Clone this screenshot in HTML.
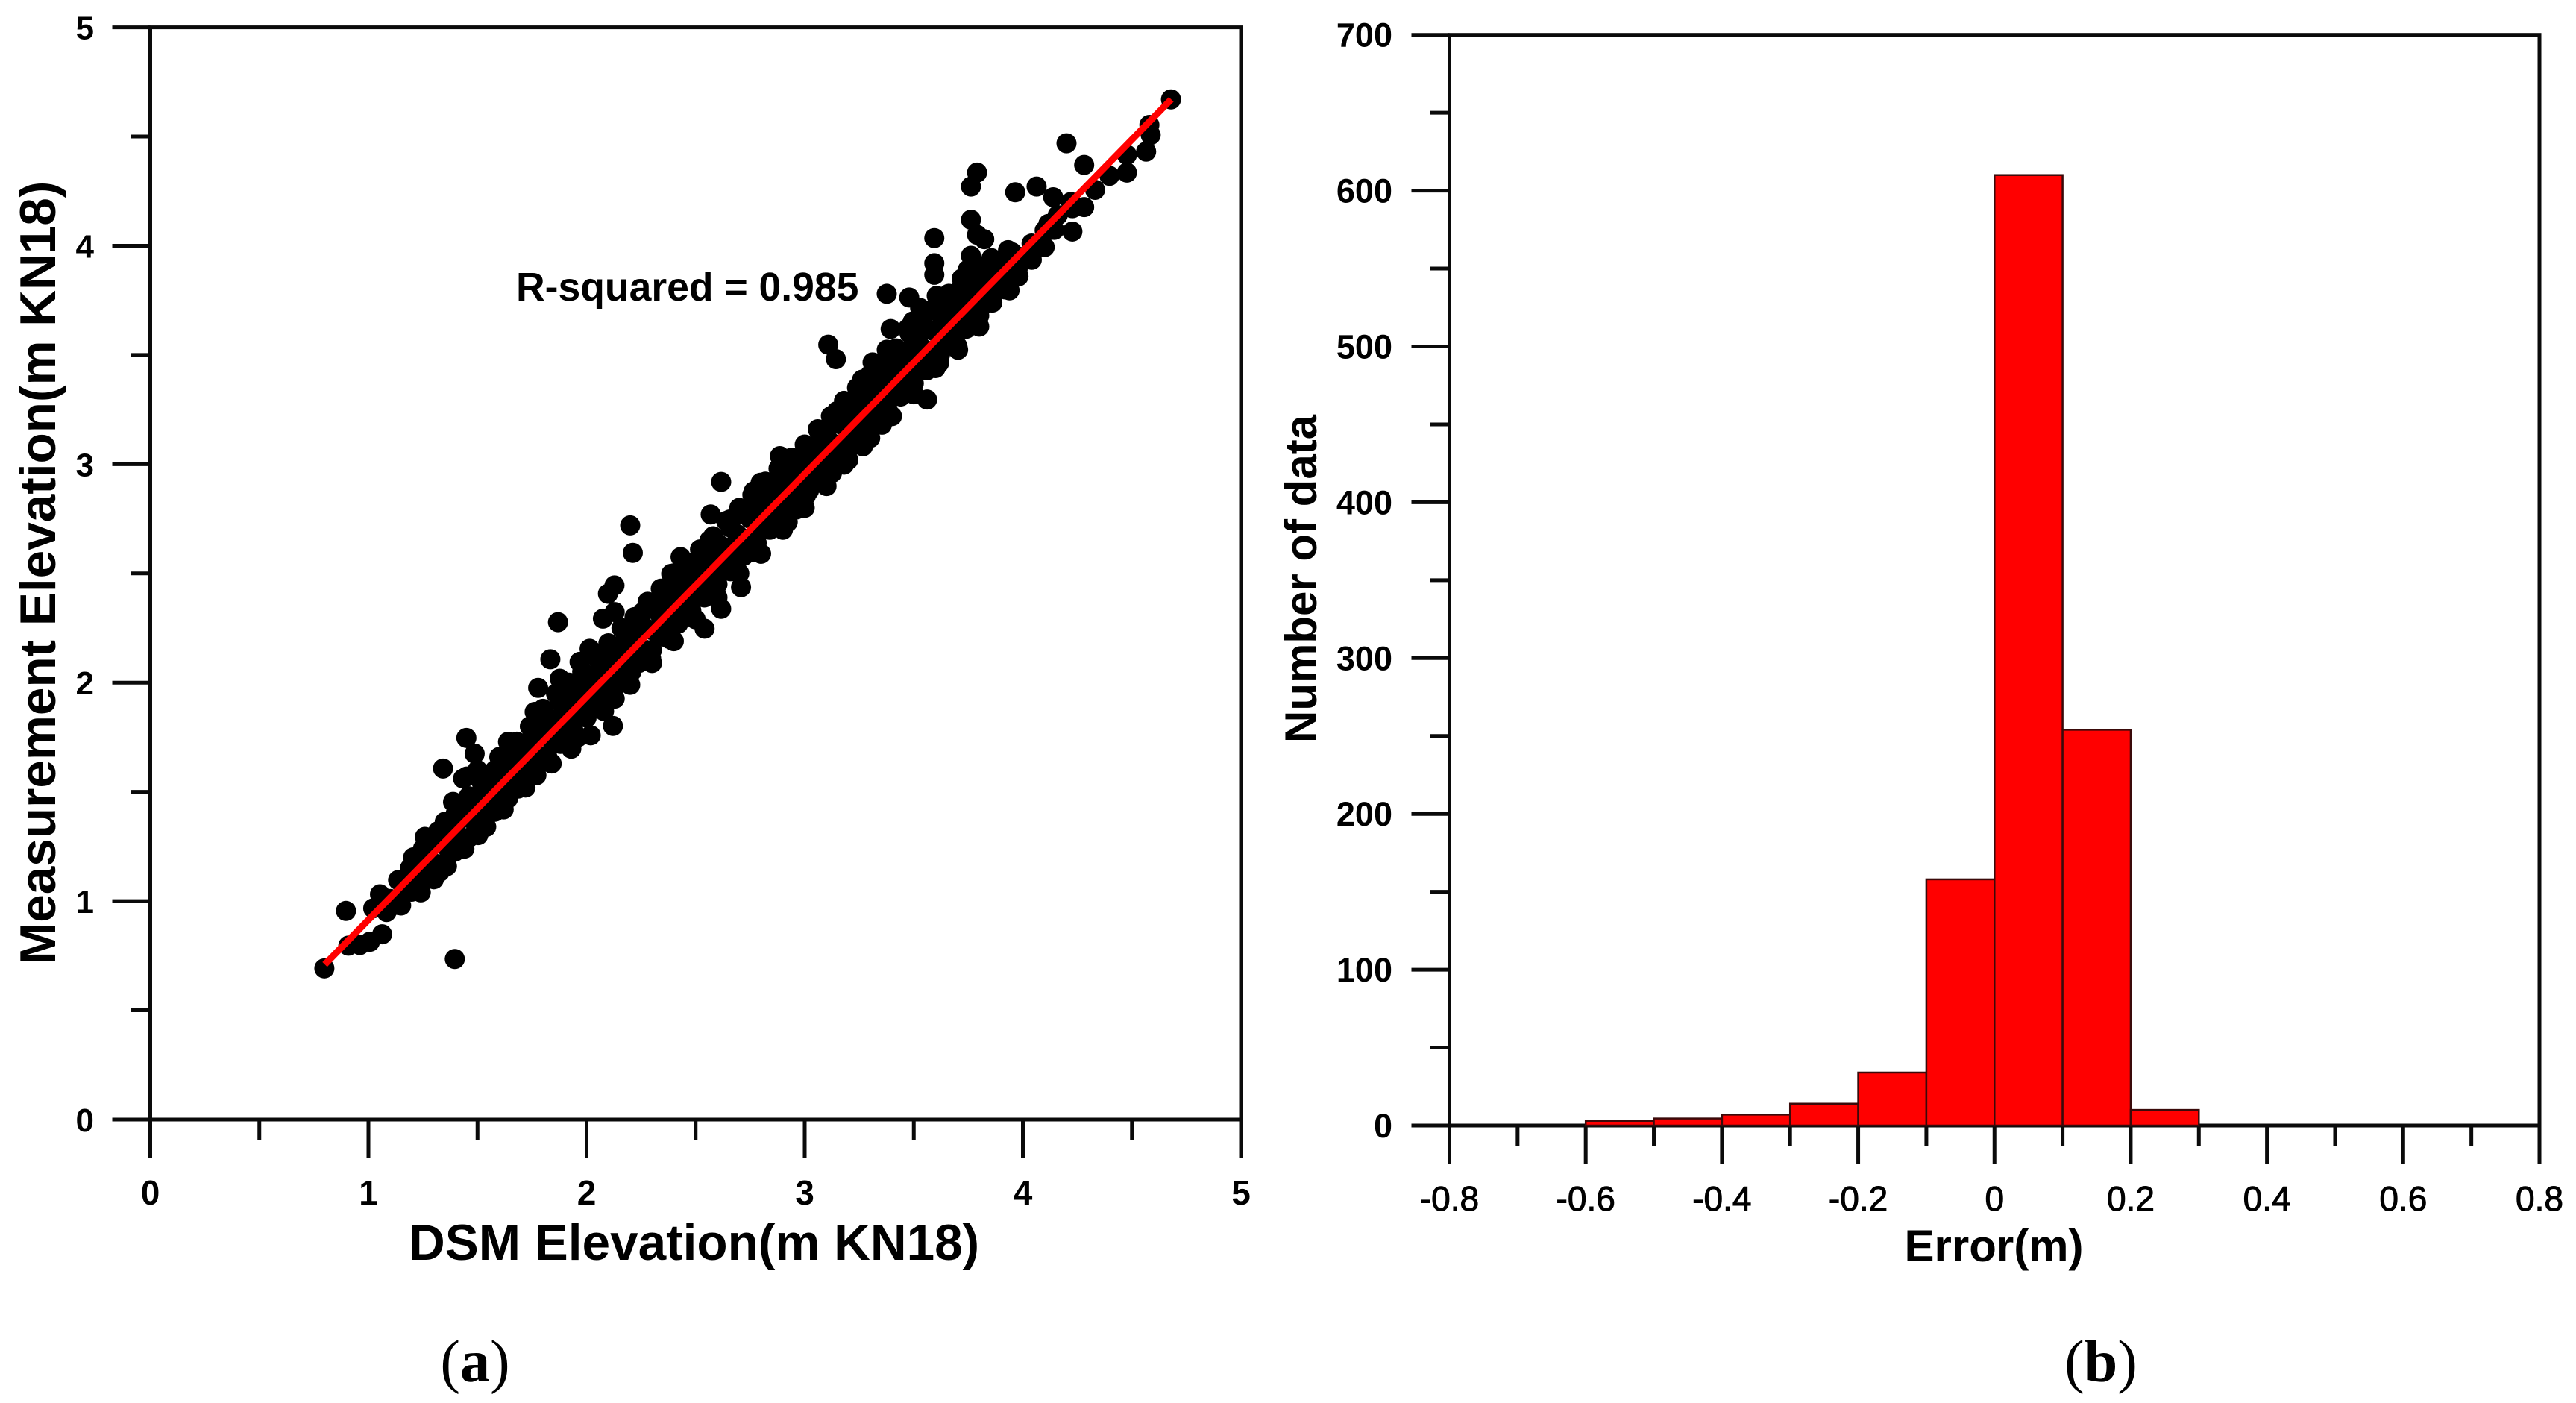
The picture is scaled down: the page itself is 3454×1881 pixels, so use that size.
<!DOCTYPE html>
<html lang="en">
<head>
<meta charset="utf-8">
<title>DSM elevation scatter plot and error histogram</title>
<style>
html,body{margin:0;padding:0;background:#fff;width:3454px;height:1881px;overflow:hidden}
svg{display:block}
text{font-family:"Liberation Sans",sans-serif;fill:#000}
.cap{font-family:"Liberation Serif",serif}
</style>
</head>
<body>
<svg id="figure" xmlns="http://www.w3.org/2000/svg" width="3454" height="1881" viewBox="0 0 3454 1881">
<rect x="0" y="0" width="3454" height="1881" fill="#fff"/>
<g id="panelA"></g>
<g id="panelB"></g>
<text class="cap" x="637" y="1852" font-size="80" text-anchor="middle">(<tspan font-weight="bold">a</tspan>)</text>
<text class="cap" x="2817" y="1852" font-size="80" text-anchor="middle">(<tspan font-weight="bold">b</tspan>)</text>
</svg>
<script>
const scatterTicks = [0, 1, 2, 3, 4, 5];
const scatterMinorTicks = [0.5, 1.5, 2.5, 3.5, 4.5];
const fitLineX = [0.8, 4.68];
const fitLineY = [0.71, 4.67];

const outlierPoints = [
[4.679,4.67],[4.58,4.553],[4.586,4.507],[4.565,4.431],[4.2,4.469],[4.281,4.37],[4.477,4.416],[4.477,4.335],
[4.397,4.32],[4.331,4.256],[4.281,4.177],[4.227,4.172],[4.063,4.271],[3.965,4.245],[4.139,4.222],[3.79,4.335],
[3.762,4.271],[3.762,4.119],[3.79,4.05],[3.823,4.03],[3.594,4.035],[3.594,3.92],[3.594,3.867],[3.762,3.954],
[3.747,3.89],[3.856,3.943],[3.932,3.98],[4.117,4.1],[4.144,4.073],[4.227,4.065],[4.1,3.994],[4.041,3.936],
[3.976,3.89],[3.939,3.796],[3.714,3.802],[3.605,3.771],[3.376,3.78],[3.479,3.763],[3.529,3.715],[3.496,3.654],
[3.474,3.623],[3.394,3.619],[3.605,3.707],[3.703,3.707],[3.834,3.738],[3.78,3.654],[3.376,3.524],[3.311,3.466],
[3.108,3.547],[3.143,3.481],[3.703,3.524],[3.616,3.463],[3.561,3.296],[3.354,3.181],[3.263,3.387],[3.256,3.326],
[3.147,3.242],[3.071,3.143],[2.886,3.037],[3.005,3.052],[3.267,3.082],[3.18,2.998],[3.125,2.96],[2.617,2.919],
[2.798,2.915],[2.766,2.876],[2.569,2.77],[2.657,2.747],[3.005,2.854],[2.962,2.793],
[0.798,0.692],[0.897,0.955],[1.396,0.735],[1.063,0.848],[1.007,0.814],[0.961,0.799],[0.908,0.796],[1.053,1.031],
[1.022,0.967],[1.083,0.95],[1.136,0.982],[1.198,1.043],[1.136,1.096],[1.205,1.2],[1.213,1.165],[1.259,1.294],
[1.327,1.134],[1.396,1.226],[1.503,1.302],[1.342,1.607],[1.449,1.747],[1.487,1.675],[1.388,1.454],[1.35,1.363],
[1.434,1.561],[1.579,1.409],[1.686,1.515],[1.77,1.576],[1.64,1.729],[1.747,1.744],[1.762,1.866],[1.778,1.976],
[1.834,2.107],[1.869,2.277],[1.877,2.018],[1.93,1.698],[2.019,1.759],[2.121,1.802],[1.968,2.095],[2.014,2.155],
[2.098,2.407],[2.128,2.445],[2.212,2.594],[2.2,2.72],[2.075,2.293],[2.129,2.323],[2.258,2.323],[2.342,2.4],
[2.388,2.498],[2.431,2.575],[2.563,2.651],[2.708,2.437],[2.541,2.247],[2.296,2.11],[2.38,2.2],[2.205,2.049],
[2.129,1.927],[2.617,2.338],[2.77,2.598],[2.922,2.735]
];
const corePoints = [
[1.10,1.01],[1.16,1.07],[1.22,1.13],[1.28,1.19],[1.34,1.26],[1.40,1.32],[1.46,1.38],[1.52,1.44],[1.58,1.50],
[1.64,1.56],[1.70,1.62],[1.76,1.68],[1.82,1.75],[1.88,1.80],[1.94,1.87],[2.00,1.93],[2.06,1.99],[2.12,2.05],
[2.18,2.11],[2.24,2.17],[2.30,2.24],[2.36,2.30],[2.42,2.36],[2.48,2.42],[2.54,2.48],[2.60,2.54],[2.66,2.60],
[2.72,2.66],[2.78,2.73],[2.84,2.79],[2.90,2.85],[2.96,2.91],[3.02,2.97],[3.08,3.03],[3.14,3.09],[3.20,3.16],
[3.26,3.22],[3.32,3.28],[3.38,3.34],[3.44,3.40],[3.50,3.46],[3.56,3.52],[3.62,3.58],[3.68,3.64],[3.74,3.71],
[3.80,3.77],[3.86,3.83],[3.92,3.89],[3.98,3.95],[4.04,4.01],[4.10,4.07],[4.16,4.14],[4.22,4.20]
];
const upperBandPoints = [
[1.25,1.24],[1.32,1.32],[1.40,1.40],[1.46,1.48],[1.52,1.54],[1.58,1.60],[1.64,1.66],[1.70,1.72],[1.76,1.78],
[1.82,1.84],[1.88,1.91],[1.94,1.97],[2.00,2.03],[2.06,2.09],[2.12,2.15],[2.18,2.21],[2.24,2.27],[2.30,2.34],
[2.36,2.40],[2.42,2.46],[2.48,2.52],[2.54,2.58],[2.60,2.64],[2.66,2.71],[2.72,2.77],[2.78,2.83],[2.84,2.89],
[2.90,2.95],[2.96,3.01],[3.02,3.07],[3.08,3.13],[3.14,3.19],[3.20,3.26],[3.26,3.32],[3.32,3.38],[3.38,3.44],
[3.44,3.50],[3.50,3.56],[3.56,3.62],[3.62,3.69],[3.68,3.75],[3.74,3.81],[3.80,3.87],[3.86,3.93]
];
const lowerBandPoints = [
[1.15,0.98],[1.22,1.05],[1.28,1.11],[1.34,1.17],[1.40,1.23],[1.46,1.29],[1.52,1.35],[1.58,1.41],[1.64,1.47],
[1.70,1.54],[1.76,1.60],[1.82,1.66],[1.88,1.72],[1.94,1.78],[2.00,1.84],[2.06,1.90],[2.12,1.96],[2.18,2.03],
[2.24,2.09],[2.30,2.15],[2.36,2.21],[2.42,2.27],[2.48,2.33],[2.54,2.39],[2.60,2.45],[2.66,2.51],[2.72,2.58],
[2.78,2.64],[2.84,2.70],[2.90,2.76],[2.96,2.82],[3.02,2.88],[3.08,2.94],[3.14,3.00],[3.20,3.07],[3.26,3.13],
[3.32,3.19],[3.38,3.25],[3.44,3.31],[3.50,3.37],[3.56,3.43],[3.62,3.50],[3.68,3.56],[3.74,3.62],[3.80,3.68],
[3.86,3.74],[3.92,3.80],[3.98,3.86]
];
const innerUpperPoints = [
[1.19,1.15],[1.25,1.21],[1.31,1.27],[1.37,1.34],[1.43,1.40],[1.49,1.46],[1.55,1.52],[1.61,1.58],[1.67,1.64],
[1.73,1.70],[1.79,1.76],[1.85,1.83],[1.91,1.89],[1.97,1.95],[2.03,2.01],[2.09,2.07],[2.15,2.13],[2.21,2.19],
[2.27,2.25],[2.33,2.32],[2.39,2.38],[2.45,2.44],[2.51,2.50],[2.57,2.56],[2.63,2.62],[2.69,2.68],[2.75,2.75],
[2.81,2.81],[2.87,2.87],[2.93,2.93],[2.99,2.99],[3.05,3.05],[3.11,3.11],[3.17,3.18],[3.23,3.24],[3.29,3.30],
[3.35,3.36],[3.41,3.42],[3.47,3.48],[3.53,3.54],[3.59,3.61],[3.65,3.67],[3.71,3.73],[3.77,3.79],[3.83,3.85],
[3.89,3.91],[3.95,3.97]
];
const innerLowerPoints = [
[1.13,0.99],[1.19,1.05],[1.25,1.11],[1.31,1.17],[1.37,1.23],[1.43,1.29],[1.49,1.36],[1.55,1.42],[1.61,1.48],
[1.67,1.54],[1.73,1.60],[1.79,1.66],[1.85,1.72],[1.91,1.79],[1.97,1.85],[2.03,1.91],[2.09,1.97],[2.15,2.03],
[2.21,2.09],[2.27,2.15],[2.33,2.22],[2.39,2.28],[2.45,2.34],[2.51,2.40],[2.57,2.46],[2.63,2.52],[2.69,2.58],
[2.75,2.65],[2.81,2.71],[2.87,2.77],[2.93,2.83],[2.99,2.89],[3.05,2.95],[3.11,3.01],[3.17,3.08],[3.23,3.14],
[3.29,3.20],[3.35,3.26],[3.41,3.32],[3.47,3.38],[3.53,3.44],[3.59,3.51],[3.65,3.57],[3.71,3.63],[3.77,3.69],
[3.83,3.75],[3.89,3.81],[3.95,3.87]
];
const outerUpperPoints = [
[1.45,1.57],[1.50,1.60],[1.60,1.66],[1.68,1.73],[1.74,1.80],[1.80,1.88],[1.86,1.95],[1.92,2.00],[1.98,2.05],
[2.04,2.12],[2.10,2.18],[2.16,2.25],[2.22,2.30],[2.28,2.37],[2.34,2.43],[2.40,2.50],[2.46,2.55],[2.52,2.61],
[2.58,2.67],[2.64,2.74],[2.70,2.80],[2.76,2.86],[2.82,2.92],[2.88,2.98],[2.94,3.03],[3.00,3.09],[3.06,3.16],
[3.12,3.22],[3.18,3.29],[3.24,3.35],[3.30,3.41],[3.36,3.47],[3.42,3.53],[3.48,3.60],[3.54,3.66],[3.60,3.72],
[3.66,3.78],[3.72,3.85],[3.78,3.91]
];
const outerLowerPoints = [
[1.24,1.04],[1.30,1.10],[1.36,1.16],[1.44,1.24],[1.54,1.34],[1.62,1.42],[1.72,1.52],[1.84,1.63],[1.96,1.75],
[2.08,1.87],[2.20,1.99],[2.30,2.09],[2.40,2.19],[2.50,2.29],[2.60,2.39],[2.70,2.50],[2.80,2.59],[2.90,2.70],
[3.00,2.80],[3.10,2.90],[3.20,3.02],[3.30,3.12],[3.40,3.22],[3.50,3.32],[3.60,3.44],[3.70,3.54],[3.80,3.63]
];

const histBinStart = [-0.6, -0.5, -0.4, -0.3, -0.2, -0.1, 0, 0.1, 0.2];
const histBinEnd = [-0.5, -0.4, -0.3, -0.2, -0.1, 0, 0.1, 0.2, 0.3];
const histCounts = [3, 4.5, 7, 14, 34, 158, 610, 254, 10];
const histXTicks = [-0.8, -0.6, -0.4, -0.2, 0, 0.2, 0.4, 0.6, 0.8];
const histXTickLabels = ['-0.8', '-0.6', '-0.4', '-0.2', '0', '0.2', '0.4', '0.6', '0.8'];
const histXMinorTicks = [-0.7, -0.5, -0.3, -0.1, 0.1, 0.3, 0.5, 0.7];
const histYTicks = [0, 100, 200, 300, 400, 500, 600, 700];
const histYMinorTicks = [50, 150, 250, 350, 450, 550, 650];

const SVGNS = 'http://www.w3.org/2000/svg';
function make(parent, tag, attrs, content) {
  const el = document.createElementNS(SVGNS, tag);
  for (const k in attrs) el.setAttribute(k, attrs[k]);
  if (content !== undefined) el.textContent = content;
  parent.appendChild(el);
  return el;
}
function tickLine(parent, x1, y1, x2, y2, name) {
  const el = make(parent, 'line', {x1: x1, y1: y1, x2: x2, y2: y2, stroke: '#0a0a0a', 'stroke-width': 5});
  
  
  return el;
}
function label(parent, x, y, str, size, anchor, weight, name) {
  const el = make(parent, 'text', {x: x, y: y, 'font-size': size, 'text-anchor': anchor, 'font-weight': weight}, str);
  
  
  return el;
}

/* Panel (a): scatter */
const a = document.getElementById('panelA');
const ax = v => 201.5 + (v - 0) / 5 * 1462.5;
const ay = v => 1501 - (v - 0) / 5 * 1464.4;

const frameA = make(a, 'rect', {x: ax(0), y: ay(5), width: ax(5) - ax(0), height: ay(0) - ay(5), fill: 'none', stroke: '#0a0a0a', 'stroke-width': 5});



scatterTicks.forEach(v => {
  tickLine(a, ax(v), ay(0), ax(v), ay(0) + 51, 'scatter-x-tick');
  tickLine(a, ax(0), ay(v), ax(0) - 51, ay(v), 'scatter-y-tick');
  label(a, ax(v), 1615, String(v), 46, 'middle', 'bold', 'scatter-x-tick-label');
  label(a, 126, ay(v) + 16, String(v), 44, 'end', 'bold', 'scatter-y-tick-label');
});
scatterMinorTicks.forEach(v => {
  tickLine(a, ax(v), ay(0), ax(v), ay(0) + 27, 'scatter-x-minor-tick');
  tickLine(a, ax(0), ay(v), ax(0) - 26, ay(v), 'scatter-y-minor-tick');
});

const dots = make(a, 'g', {fill: '#000'});


[corePoints, innerUpperPoints, innerLowerPoints, upperBandPoints, lowerBandPoints, outerUpperPoints, outerLowerPoints, outlierPoints].forEach(list => {
  list.forEach(p => {
    const c = make(dots, 'circle', {cx: ax(p[0]), cy: ay(p[1]), r: 13.5});
    
    
  });
});

const fit = make(a, 'line', {x1: ax(fitLineX[0]), y1: ay(fitLineY[0]), x2: ax(fitLineX[1]), y2: ay(fitLineY[1]), stroke: '#ff0000', 'stroke-width': 9});



label(a, 692, 403, 'R-squared = 0.985', 53.5, 'start', 'bold', 'r-squared-annotation');
label(a, 548, 1689, 'DSM Elevation(m KN18)', 67.5, 'start', 'bold', 'scatter-x-axis-title');
const yTitleA = label(a, 0, 0, 'Measurement Elevation(m KN18)', 67.5, 'start', 'bold', 'scatter-y-axis-title');
yTitleA.setAttribute('transform', 'translate(74 1293) rotate(-90)');

/* Panel (b): histogram */
const b = document.getElementById('panelB');
const bx = v => 1943.5 + (v + 0.8) / 1.6 * 1461.5;
const by = v => 1509 - v / 700 * 1462.3;

const frameB = make(b, 'rect', {x: bx(-0.8), y: by(700), width: bx(0.8) - bx(-0.8), height: by(0) - by(700), fill: 'none', stroke: '#0a0a0a', 'stroke-width': 5});



histXTicks.forEach((v, i) => {
  tickLine(b, bx(v), by(0), bx(v), by(0) + 51, 'histogram-x-tick');
  label(b, bx(v), 1623, histXTickLabels[i], 46, 'middle', 'normal', 'histogram-x-tick-label').setAttribute('stroke', '#000');
});
histXMinorTicks.forEach(v => {
  tickLine(b, bx(v), by(0), bx(v), by(0) + 27, 'histogram-x-minor-tick');
});
histYTicks.forEach(v => {
  tickLine(b, bx(-0.8), by(v), bx(-0.8) - 51, by(v), 'histogram-y-tick');
  label(b, 1867, by(v) + 16, String(v), 45, 'end', 'bold', 'histogram-y-tick-label');
});
histYMinorTicks.forEach(v => {
  tickLine(b, bx(-0.8), by(v), bx(-0.8) - 26, by(v), 'histogram-y-minor-tick');
});

histCounts.forEach((n, i) => {
  const r = make(b, 'rect', {x: bx(histBinStart[i]), y: by(n), width: bx(histBinEnd[i]) - bx(histBinStart[i]), height: by(0) - by(n), fill: '#ff0000', stroke: '#3a0a0a', 'stroke-width': 2.5});
  
  
});

label(b, 2673.5, 1691, 'Error(m)', 60, 'middle', 'bold', 'histogram-x-axis-title');
const yTitleB = label(b, 0, 0, 'Number of data', 60, 'start', 'bold', 'histogram-y-axis-title');
yTitleB.setAttribute('transform', 'translate(1765 996) rotate(-90)');
</script>
</body>
</html>
